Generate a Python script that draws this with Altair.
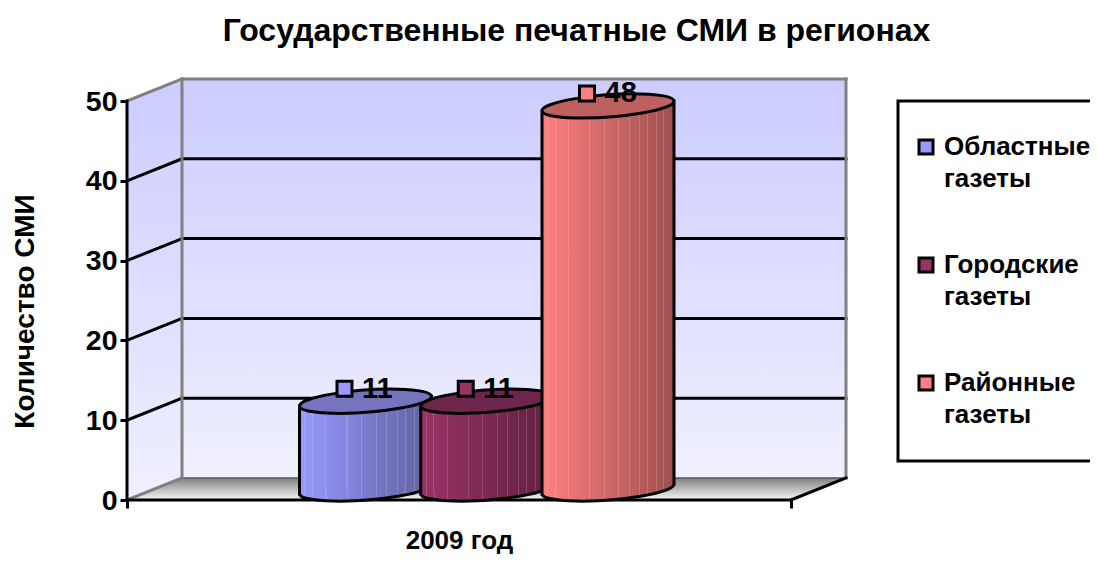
import altair as alt
import pandas as pd

# ---- data ----
series = ["Областные газеты", "Городские газеты", "Районные газеты"]
values = [11, 11, 48]
marker_colors = ["#9999FF", "#993366", "#FF8080"]
shade_right = ["#5F5F9E", "#5F2040", "#9E4F4F"]
top_colors = ["#7474C0", "#6F264C", "#BF6060"]
y_ticks = [0, 10, 20, 30, 40, 50]

# ---- layout (page pixels converted to scale units) ----
W, H = 1082, 546
PX_PER_VALUE = 7.98
PX_PER_SLOT = 121.25
Y0_PAGE = 500
CENTER1_PAGE = 365.5


def ux(px):
    return 1 + (px - CENTER1_PAGE) / PX_PER_SLOT


def uy(px):
    return (Y0_PAGE - px) / PX_PER_VALUE


def dpx(px):
    return px / PX_PER_VALUE


xs = alt.Scale(domain=[ux(8), ux(8 + W)], nice=False, zero=False)
ys = alt.Scale(domain=[uy(8 + H), uy(8)], nice=False, zero=False)
FONT = "Liberation Sans"
LW = 3

X = alt.X("x:Q", scale=xs, axis=None)
Y = alt.Y("y:Q", scale=ys, axis=None)
Y2 = alt.Y2("y2:Q")
X2 = alt.X2("x2:Q")

left, back_l, back_r, front_r = ux(127), ux(182), ux(846), ux(791)
depth = dpx(22)
top = 50
V_GRAD = dict(gradient="linear", x1=0, y1=0, x2=0, y2=1)


def layer_area(rows, fill):
    return alt.Chart(pd.DataFrame(rows)).mark_area(fill=fill, interpolate="linear", clip=False).encode(x=X, y=Y, y2=Y2)


def segs(rows, color, width):
    return alt.Chart(pd.DataFrame(rows)).mark_line(color=color, strokeWidth=width, strokeCap="square").encode(
        x=X, y=Y, detail="k:N", order="o:Q")


def seg_rows(points):
    out = []
    for k, (a, b) in enumerate(points):
        out.append(dict(k=k, o=0, x=a[0], y=a[1]))
        out.append(dict(k=k, o=1, x=b[0], y=b[1]))
    return out


wall_fill = dict(V_GRAD, stops=[dict(offset=0, color="#CCCCFF"), dict(offset=1, color="#F0F0FF")])
floor_fill = dict(V_GRAD, stops=[dict(offset=0, color="#808080"), dict(offset=0.85, color="#E6E6E6"),
                                 dict(offset=1, color="#EFEFEF")])

back_wall = layer_area([dict(x=back_l, y=top + depth, y2=depth), dict(x=back_r, y=top + depth, y2=depth)], wall_fill)
side_wall = layer_area([dict(x=left, y=top, y2=0), dict(x=back_l, y=top + depth, y2=depth)], wall_fill)
floor = layer_area([dict(x=left, y=0, y2=0), dict(x=back_l, y=depth, y2=0), dict(x=front_r, y=depth, y2=0),
                    dict(x=back_r, y=depth, y2=depth)], floor_fill)

grid = segs(seg_rows([((left, v), (back_l, v + depth)) for v in y_ticks[1:-1]]
                     + [((back_l, v + depth), (back_r, v + depth)) for v in y_ticks[1:-1]]), "black", LW)
frame_gray = segs(seg_rows([((left, top), (back_l, top + depth)),
                            ((back_l, top + depth), (back_r, top + depth)),
                            ((back_l, top + depth), (back_l, depth)),
                            ((back_r, top + depth), (back_r, depth)),
                            ((left, 0), (back_l, depth))]), "#808080", LW)
floor_edge = segs(seg_rows([((back_l, depth), (back_r, depth))]), "#555555", 1.5)
frame_black = segs(seg_rows([((left, 0), (left, top)),
                             ((left, 0), (front_r, 0)),
                             ((front_r, 0), (back_r, depth))]), "black", LW)

# axes: ticks and labels come from the scales
y_axis = alt.Chart(pd.DataFrame({"y": y_ticks})).mark_point(opacity=0).encode(
    y=alt.Y("y:Q", scale=ys, title="Количество СМИ", axis=alt.Axis(
        values=y_ticks, orient="left", offset=-119, domain=False, grid=False,
        tickSize=7, tickWidth=LW, tickColor="black", labelFontSize=28.5, labelFont=FONT,
        labelFontWeight="bold", labelColor="black", labelPadding=3,
        titleFont=FONT, titleFontSize=28, titleFontWeight="bold", titleColor="black",
        titleX=-88, titleY=303)),
)
x_axis = alt.Chart(pd.DataFrame({"x": [left, front_r]})).mark_point(opacity=0).encode(
    x=alt.X("x:Q", scale=xs, title="2009 год", axis=alt.Axis(
        values=[left, front_r], orient="bottom", offset=-54, domain=False, grid=False,
        tickSize=8, tickWidth=LW, tickColor="black", labels=False,
        titleFont=FONT, titleFontSize=26, titleFontWeight="bold", titleColor="black",
        titleX=451, titleY=27)),
)

# cylinders
HALF = 66 / PX_PER_SLOT
TILT = dpx(5)
BASE = dpx(11)
ELLIPSE = "M-0.997,0.075 A1,0.165 -4.3 1 1 0.997,-0.075 A1,0.165 -4.3 1 1 -0.997,0.075 Z"
STRIPES = [0.04, 0.1, 0.2, 0.36, 0.47, 0.58, 0.66, 0.74, 0.8, 0.87, 0.92]


def hex2rgb(h):
    return [int(h[i:i + 2], 16) for i in (1, 3, 5)]


def mix(a, b, t):
    ca, cb = hex2rgb(a), hex2rgb(b)
    return "#%02x%02x%02x" % tuple(int(round(p + (q - p) * t)) for p, q in zip(ca, cb))


def body_gradient(c0, c1):
    stops = [dict(offset=0, color=c0)]
    w = 0.004
    for s in STRIPES:
        base = mix(c0, c1, s)
        light = mix(base, "#FFFFFF", 0.16)
        stops += [dict(offset=s - w, color=base), dict(offset=s - w, color=light),
                  dict(offset=s + w, color=light), dict(offset=s + w, color=base)]
    stops.append(dict(offset=1, color=c1))
    return dict(gradient="linear", x1=0, y1=0, x2=1, y2=0, stops=stops)


cyl_layers = []
for i, (v, c0, c1, ct) in enumerate(zip(values, marker_colors, shade_right, top_colors)):
    pos = i + 1
    grad = body_gradient(c0, c1)
    l, r = pos - HALF, pos + HALF
    ytop, ybot = v + BASE, BASE
    one = pd.DataFrame([dict(x=pos, y=ybot)])
    one_t = pd.DataFrame([dict(x=pos, y=ytop)])
    cyl_layers.append(alt.Chart(one).mark_point(shape=ELLIPSE, size=132 ** 2, filled=True, fill=grad, opacity=1,
                                                stroke="black", strokeWidth=LW).encode(x=X, y=Y))
    cyl_layers.append(layer_area([dict(x=l, y=ytop - TILT, y2=ybot - TILT), dict(x=r, y=ytop + TILT, y2=ybot + TILT)], grad))
    cyl_layers.append(segs(seg_rows([((l, ytop - TILT), (l, ybot - TILT)), ((r, ytop + TILT), (r, ybot + TILT))]),
                           "black", LW))
    cyl_layers.append(alt.Chart(one_t).mark_point(shape=ELLIPSE, size=132 ** 2, filled=True, fill=ct, opacity=1,
                                                  stroke="black", strokeWidth=LW).encode(x=X, y=Y))

# markers with legend, and value labels
MX = -21 / PX_PER_SLOT
MY = dpx(12.5)
labels_df = pd.DataFrame(dict(
    x=[i + 1 + MX for i in range(3)], y=[v + BASE + MY for v in values],
    tx=[i + 1 - 3.5 / PX_PER_SLOT for i in range(3)],
    label=[str(v) for v in values], series=series))

legend_box = alt.Chart(pd.DataFrame([dict(x=ux(898), x2=ux(1130), y=uy(101), y2=uy(461))])).mark_rect(
    fill="white", stroke="black", strokeWidth=LW).encode(x=X, x2=X2, y=Y, y2=Y2)

markers = alt.Chart(labels_df).mark_point(shape="square", filled=True, size=225, opacity=1, stroke="black",
                                          strokeWidth=LW).encode(
    x=X, y=Y,
    color=alt.Color("series:N", scale=alt.Scale(domain=series, range=marker_colors), legend=alt.Legend(
        orient="none", legendX=905, legendY=126, title=None, padding=0,
        symbolType="square", symbolSize=196, symbolStrokeColor="black", symbolStrokeWidth=LW,
        symbolOpacity=1, labelFont=FONT, labelFontSize=26, labelFontWeight="bold", labelColor="black",
        labelLimit=0, labelExpr="split(datum.label, ' ')", rowPadding=60, labelOffset=5)),
)
value_text = alt.Chart(labels_df).mark_text(font=FONT, fontSize=29, fontWeight="bold", color="black", align="left",
                                            baseline="middle").encode(
    x=alt.X("tx:Q", scale=xs, axis=None), y=Y, text="label:N")

chart = alt.layer(
    y_axis, x_axis, legend_box, back_wall, side_wall, floor, grid, floor_edge, frame_gray, frame_black,
    *cyl_layers, markers, value_text,
).resolve_scale(x="shared", y="shared").resolve_axis(x="independent", y="independent").properties(
    width=W, height=H, padding=0,
    autosize=alt.AutoSizeParams(type="none"),
    title=alt.TitleParams("Государственные печатные СМИ в регионах", font=FONT, fontSize=32, fontWeight="bold",
                          color="black", anchor="middle", dx=27.5, offset=-40),
)
chart.config = alt.Config(view=alt.ViewConfig(stroke=None), style={"guide-label": {"lineHeight": 32}})

chart.save("out.html", embed_options={"renderer": "svg", "actions": False})
